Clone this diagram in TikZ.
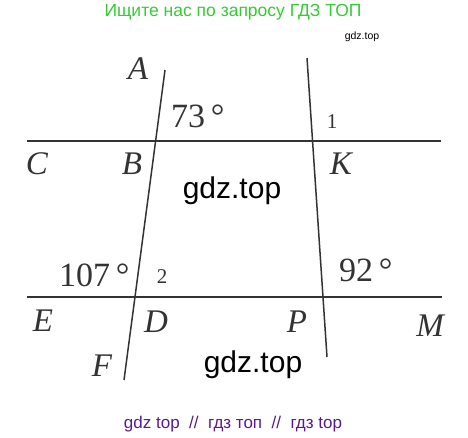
\documentclass[tikz,border=0pt]{standalone}
\usepackage{fontspec}
\setmainfont{Liberation Serif}
\newfontfamily\wmfont{Liberation Sans}
\definecolor{topgreen}{HTML}{33CC33}
\definecolor{botpurple}{HTML}{5A1A8C}
\definecolor{linegray}{HTML}{333333}
\begin{document}
\begin{tikzpicture}[x=1pt,y=-1pt,
  geoline/.style={draw=linegray,line width=1.5pt},
  ptlabel/.style={font=\fontsize{33}{33}\selectfont\itshape,text=linegray,inner sep=0pt,anchor=center},
  anglabel/.style={font=\fontsize{34}{34}\selectfont,text=linegray,inner sep=0pt,anchor=base west},
  numlabel/.style={font=\fontsize{21}{21}\selectfont,text=linegray,inner sep=0pt,anchor=center},
  wmark/.style={font=\wmfont\fontsize{30}{30}\selectfont,text=black,inner sep=0pt,anchor=center}]
\useasboundingbox (0,0) rectangle (468,438);
% line endpoints
\coordinate (cL) at (27,141);
\coordinate (cR) at (441,141);
\coordinate (eL) at (27,297);
\coordinate (eR) at (442,297);
\coordinate (aT) at (165,70);
\coordinate (fB) at (124,380);
\coordinate (kT) at (307,58);
\coordinate (pB) at (327,357);
\draw[geoline] (cL) -- (cR);
\draw[geoline] (eL) -- (eR);
\draw[geoline] (aT) -- (fB);
\draw[geoline] (kT) -- (pB);
% point labels
\node[ptlabel] (A) at (138,69) {A};
\node[ptlabel] (B) at (132,164) {B};
\node[ptlabel] (C) at (37,164) {C};
\node[ptlabel] (K) at (341,164) {K};
\node[ptlabel] (E) at (43,321) {E};
\node[ptlabel] (D) at (156,322) {D};
\node[ptlabel] (P) at (297,322) {P};
\node[ptlabel] (M) at (430,326) {M};
\node[ptlabel] (F) at (102,366) {F};
% angle labels
\node[anglabel] (a73) at (171,128) {73\,°};
\node[anglabel] (a107) at (59,286) {107\,°};
\node[anglabel] (a92) at (339,281) {92\,°};
\node[numlabel] (n1) at (332,122) {1};
\node[numlabel] (n2) at (162,277) {2};
% watermarks
\node[wmark] (w1) at (232,191) {gdz.top};
\node[wmark] (w2) at (253,365) {gdz.top};
\node[font=\wmfont\fontsize{10.5}{10.5}\selectfont,inner sep=0pt] (w3) at (362,37) {gdz.top};
\node[font=\wmfont\fontsize{17.5}{17.5}\selectfont,text=topgreen,inner sep=0pt] (top) at (233,12) {Ищите нас по запросу ГДЗ ТОП};
\node[font=\wmfont\fontsize{17}{17}\selectfont,text=botpurple,inner sep=0pt] (bot) at (233,424) {gdz top \ // \ гдз топ \ // \ гдз top};
\end{tikzpicture}
\end{document}
